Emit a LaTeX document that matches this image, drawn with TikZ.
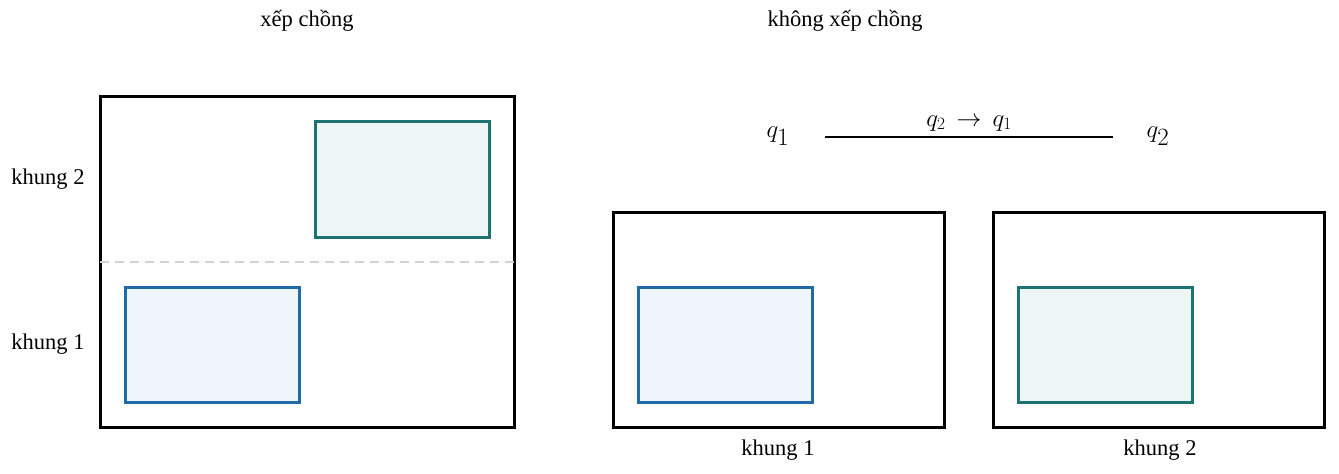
\documentclass[tikz,border=0pt]{standalone}
\usepackage{fontspec}
\setmainfont{Liberation Serif}
\definecolor{bl}{HTML}{1F6AA8}
\definecolor{blf}{HTML}{F0F5FC}
\definecolor{tl}{HTML}{1F7272}
\definecolor{tlf}{HTML}{EEF6F5}
\begin{document}
\begin{tikzpicture}[x=1pt,y=-1pt,
 frame/.style={draw=black,line width=3pt},
 bluebox/.style={draw=bl,fill=blf,line width=3pt},
 greenbox/.style={draw=tl,fill=tlf,line width=3pt},
 lab/.style={font=\fontsize{22.5}{26}\selectfont}]
\useasboundingbox (0,0) rectangle (1339,474);
\node[lab] (t1) at (307,21) {xếp chồng};
\node[lab] (t2) at (845,21) {không xếp chồng};
\draw[frame] (100,96) rectangle (514,427);
\draw[gray!35,dash pattern=on 9pt off 6pt,line width=1.5pt] (100,262) -- (514,262);
\draw[greenbox] (315,121) rectangle (489,237);
\draw[bluebox] (125,287) rectangle (299,402);
\node[lab] (k2) at (48,179) {khung 2};
\node[lab] (k1) at (48,344) {khung 1};
\draw[frame] (613,212) rectangle (944,427);
\draw[bluebox] (638,287) rectangle (812,402);
\draw[frame] (993,212) rectangle (1324,427);
\draw[greenbox] (1018,287) rectangle (1192,402);
\node[lab] (b1) at (778,450) {khung 1};
\node[lab] (b2) at (1160,450) {khung 2};
\node[font=\fontsize{40}{44}\selectfont] (q1) at (778,136) {$q_1$};
\node[font=\fontsize{40}{44}\selectfont] (q2) at (1158,136) {$q_2$};
\draw[line width=1.5pt] (825,137) -- node[above=2pt,font=\fontsize{26}{30}\selectfont]{$q_2\,\rightarrow\,q_1$} (1113,137);
\end{tikzpicture}
\end{document}
